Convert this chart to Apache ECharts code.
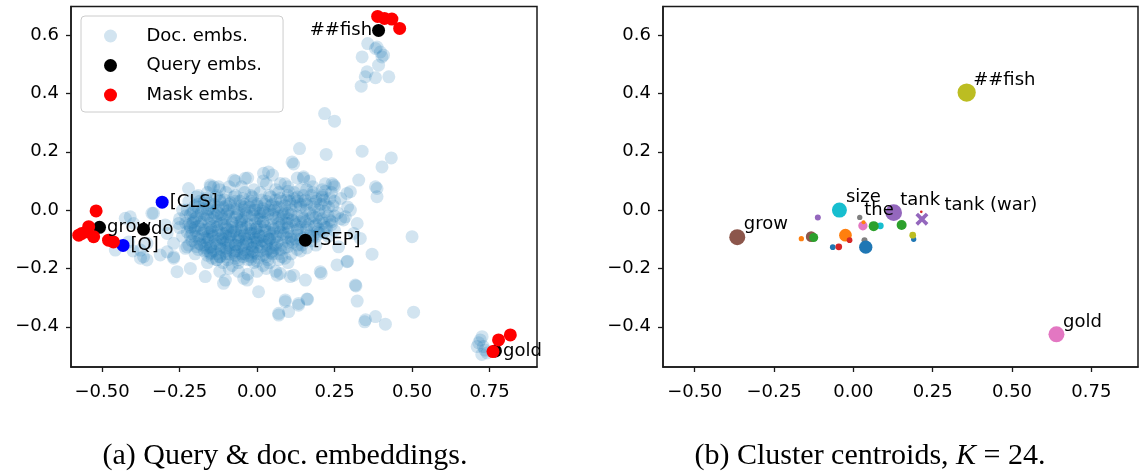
<!DOCTYPE html>
<html>
<head>
<meta charset="utf-8">
<script src="https://cdn.jsdelivr.net/npm/echarts@6/dist/echarts.min.js"></script>
<style>
  html, body { margin: 0; padding: 0; background: #fff; }
  #main { width: 1140px; height: 472px; }
</style>
</head>
<body>
<div id="main"></div>
<script>
// tick values
const xTicks = [-0.5, -0.25, 0, 0.25, 0.5, 0.75]
const yTicks = [-0.4, -0.2, 0, 0.2, 0.4, 0.6]

// (a) document embeddings
const docEmbs = [
  // main cloud
  [-0.07,0.10],[-0.03,0.11],[0.02,0.10],[0.05,0.12],[0.09,0.09],[0.13,0.11],[0.17,0.10],[0.22,0.09],
  [-0.15,0.08],[-0.12,0.07],[-0.09,0.08],[-0.05,0.08],[-0.01,0.07],[0.03,0.09],[0.06,0.07],[0.10,0.08],[0.14,0.07],[0.18,0.08],[0.21,0.07],[0.25,0.08],
  [-0.19,0.05],[-0.16,0.06],[-0.13,0.05],[-0.10,0.06],[-0.07,0.05],[-0.04,0.06],[-0.02,0.05],[0.01,0.06],[0.04,0.05],[0.07,0.06],[0.10,0.05],[0.12,0.06],[0.15,0.05],[0.18,0.06],[0.21,0.05],[0.24,0.06],[0.27,0.04],
  [-0.22,0.03],[-0.19,0.02],[-0.17,0.03],[-0.14,0.02],[-0.12,0.03],[-0.09,0.02],[-0.07,0.03],[-0.04,0.02],[-0.02,0.03],[0.00,0.02],[0.03,0.03],[0.05,0.02],[0.08,0.03],[0.11,0.02],[0.13,0.03],[0.16,0.02],[0.19,0.03],[0.22,0.02],[0.25,0.03],
  [-0.24,0.00],[-0.21,-0.01],[-0.19,0.01],[-0.16,0.00],[-0.14,-0.01],[-0.11,0.01],[-0.09,0.00],[-0.06,-0.01],[-0.04,0.01],[-0.01,0.00],[0.01,-0.01],[0.04,0.00],[0.06,0.01],[0.09,-0.01],[0.11,0.00],[0.14,0.01],[0.17,-0.01],[0.20,0.00],[0.23,0.01],[0.26,-0.01],
  [-0.25,-0.03],[-0.23,-0.02],[-0.20,-0.03],[-0.18,-0.04],[-0.15,-0.03],[-0.13,-0.02],[-0.10,-0.03],[-0.08,-0.04],[-0.05,-0.03],[-0.03,-0.02],[0.00,-0.03],[0.02,-0.04],[0.05,-0.03],[0.07,-0.02],[0.10,-0.03],[0.12,-0.04],[0.15,-0.03],[0.18,-0.02],[0.21,-0.03],[0.24,-0.04],[0.27,-0.03],
  [-0.25,-0.06],[-0.22,-0.05],[-0.20,-0.06],[-0.17,-0.07],[-0.15,-0.06],[-0.12,-0.05],[-0.10,-0.06],[-0.07,-0.07],[-0.05,-0.06],[-0.02,-0.05],[0.00,-0.06],[0.03,-0.07],[0.05,-0.06],[0.08,-0.05],[0.10,-0.06],[0.13,-0.07],[0.16,-0.06],[0.19,-0.05],[0.22,-0.06],[0.25,-0.07],
  [-0.24,-0.09],[-0.21,-0.08],[-0.19,-0.09],[-0.16,-0.10],[-0.14,-0.09],[-0.11,-0.08],[-0.09,-0.09],[-0.06,-0.10],[-0.04,-0.09],[-0.01,-0.08],[0.01,-0.09],[0.04,-0.10],[0.06,-0.09],[0.09,-0.08],[0.11,-0.09],[0.14,-0.10],[0.17,-0.09],[0.20,-0.08],[0.23,-0.09],
  [-0.22,-0.12],[-0.20,-0.11],[-0.17,-0.12],[-0.15,-0.13],[-0.12,-0.12],[-0.10,-0.11],[-0.07,-0.12],[-0.05,-0.13],[-0.02,-0.12],[0.00,-0.11],[0.03,-0.12],[0.05,-0.13],[0.08,-0.12],[0.10,-0.11],[0.13,-0.12],[0.16,-0.13],[0.19,-0.12],
  [-0.20,-0.15],[-0.17,-0.14],[-0.15,-0.15],[-0.12,-0.16],[-0.10,-0.15],[-0.07,-0.14],[-0.05,-0.15],[-0.02,-0.16],[0.00,-0.15],[0.03,-0.14],[0.05,-0.15],[0.08,-0.16],[0.11,-0.15],[0.14,-0.14],
  [-0.16,-0.18],[-0.13,-0.17],[-0.11,-0.18],[-0.08,-0.19],[-0.06,-0.18],[-0.03,-0.17],[-0.01,-0.18],[0.02,-0.19],[0.04,-0.18],[0.07,-0.17],[0.10,-0.18],
  [-0.12,-0.21],[-0.09,-0.20],[-0.06,-0.21],[-0.03,-0.22],[0.00,-0.21],[0.03,-0.20],[0.06,-0.21],
  // denser core
  [-0.20,0.015],[-0.175,0.005],[-0.15,0.015],[-0.125,0.01],[-0.10,0.015],[-0.075,0.005],[-0.05,0.015],[-0.025,0.01],[0.0,0.015],[0.02,0.005],[0.045,0.015],[0.07,0.01],
  [-0.215,-0.015],[-0.19,-0.02],[-0.165,-0.015],[-0.14,-0.025],[-0.115,-0.015],[-0.09,-0.02],[-0.065,-0.015],[-0.04,-0.025],[-0.015,-0.015],[0.01,-0.02],[0.035,-0.015],[0.06,-0.025],[0.085,-0.015],
  [-0.23,-0.045],[-0.205,-0.04],[-0.18,-0.05],[-0.155,-0.045],[-0.13,-0.04],[-0.105,-0.05],[-0.08,-0.045],[-0.055,-0.04],[-0.03,-0.05],[-0.005,-0.045],[0.02,-0.04],[0.045,-0.05],[0.07,-0.045],
  [-0.225,-0.075],[-0.20,-0.07],[-0.175,-0.08],[-0.15,-0.075],[-0.125,-0.07],[-0.10,-0.08],[-0.075,-0.075],[-0.05,-0.07],[-0.025,-0.08],[0.0,-0.075],[0.025,-0.07],[0.05,-0.08],[0.075,-0.075],
  [-0.21,-0.105],[-0.185,-0.10],[-0.16,-0.11],[-0.135,-0.105],[-0.11,-0.10],[-0.085,-0.11],[-0.06,-0.105],[-0.035,-0.10],[-0.01,-0.11],[0.015,-0.105],[0.04,-0.10],[0.065,-0.11],
  [-0.19,-0.135],[-0.165,-0.13],[-0.14,-0.14],[-0.115,-0.135],[-0.09,-0.13],[-0.065,-0.14],[-0.04,-0.135],[-0.015,-0.13],[0.01,-0.14],[0.035,-0.135],[0.06,-0.13],
  [-0.145,-0.165],[-0.12,-0.16],[-0.095,-0.17],[-0.07,-0.165],[-0.045,-0.16],[-0.02,-0.17],[0.005,-0.165],[0.03,-0.16],
  [0.10,0.065],[0.13,0.045],[0.16,0.07],[0.19,0.04],[0.22,0.065],
  [0.095,0.035],[0.125,0.015],[0.155,0.035],[0.185,0.01],[0.215,0.035],[0.245,0.015],
  [0.10,-0.01],[0.13,-0.02],[0.16,0.0],[0.19,-0.025],[0.22,-0.005],[0.25,-0.02],
  [0.095,-0.045],[0.125,-0.05],[0.155,-0.04],[0.185,-0.055],[0.215,-0.045],[0.24,-0.05],
  [0.10,-0.075],[0.13,-0.085],[0.16,-0.07],[0.19,-0.09],[0.215,-0.075],
  [0.115,-0.11],[0.145,-0.12],[0.175,-0.105],
  [-0.17,-0.03],[-0.14,-0.055],[-0.11,-0.03],[-0.08,-0.06],[-0.05,-0.035],[-0.02,-0.065],[0.01,-0.03],
  [-0.16,-0.09],[-0.13,-0.115],[-0.10,-0.09],[-0.07,-0.12],[-0.04,-0.085],[-0.01,-0.125],[0.02,-0.09],
  [-0.15,-0.145],[-0.12,-0.10],[-0.09,-0.15],[-0.06,-0.095],[-0.03,-0.145],[0.0,-0.10],
  [-0.195,0.045],[-0.165,0.04],[-0.135,0.045],[-0.105,0.035],[-0.075,0.045],[-0.045,0.04],[-0.015,0.045],[0.015,0.035],[0.045,0.045],[0.075,0.04],[0.105,0.03],[0.14,0.02],[0.175,0.05],[0.205,0.02],[0.235,0.04],
  [-0.205,-0.005],[-0.18,-0.01],[-0.155,0.005],[-0.125,-0.01],[-0.095,-0.005],[-0.065,0.005],[-0.035,-0.01],[-0.005,0.0],[0.025,-0.01],[0.055,0.0],[0.08,-0.005],[0.115,-0.035],[0.145,-0.02],[0.2,-0.04],[0.23,-0.02],
  [-0.215,-0.06],[-0.19,-0.055],[-0.16,-0.065],[-0.13,-0.06],[-0.095,-0.065],[-0.065,-0.055],[-0.035,-0.06],[-0.005,-0.065],[0.025,-0.055],[0.055,-0.065],[0.085,-0.06],[0.14,-0.06],[0.17,-0.085],[0.2,-0.065],
  [-0.2,-0.09],[-0.17,-0.095],[-0.145,-0.085],[-0.115,-0.095],[-0.085,-0.085],[-0.055,-0.09],[-0.025,-0.095],[0.005,-0.085],[0.035,-0.095],[0.065,-0.09],[0.095,-0.095],[0.125,-0.1],
  [-0.18,-0.12],[-0.15,-0.125],[-0.12,-0.13],[-0.09,-0.12],[-0.06,-0.125],[-0.03,-0.115],[0.0,-0.125],[0.03,-0.115],[0.06,-0.12],[0.09,-0.13],
  [-0.13,-0.15],[-0.1,-0.14],[-0.07,-0.155],[-0.04,-0.15],[-0.01,-0.145],[0.02,-0.155],[0.05,-0.14],
  [-0.185,0.03],[-0.155,0.025],[-0.12,0.035],[-0.085,0.025],[-0.055,0.03],[-0.01,0.025],[0.025,0.02],[0.06,0.035],[0.09,0.015],[0.12,0.04],[0.15,0.03],[0.18,0.02],[0.21,0.045],
  [-0.225,0.0],[-0.195,-0.025],[-0.16,-0.02],[-0.13,0.0],[-0.1,-0.015],[-0.07,-0.025],[-0.04,0.0],[-0.01,-0.02],[0.02,-0.005],[0.05,-0.015],[0.08,-0.03],[0.11,-0.015],[0.14,-0.04],[0.17,-0.03],[0.2,-0.015],[0.235,-0.035],
  [-0.21,-0.045],[-0.18,-0.065],[-0.145,-0.07],[-0.115,-0.045],[-0.085,-0.07],[-0.05,-0.05],[-0.02,-0.08],[0.01,-0.055],[0.04,-0.075],[0.07,-0.06],[0.1,-0.045],[0.13,-0.065],[0.165,-0.05],[0.195,-0.075],[0.225,-0.06],
  [-0.215,-0.09],[-0.185,-0.115],[-0.155,-0.1],[-0.125,-0.085],[-0.095,-0.105],[-0.065,-0.085],[-0.035,-0.11],[-0.005,-0.095],[0.025,-0.11],[0.055,-0.1],[0.085,-0.085],[0.11,-0.1],[0.15,-0.095],[0.18,-0.09],
  [-0.195,-0.125],[-0.16,-0.14],[-0.13,-0.125],[-0.1,-0.13],[-0.075,-0.145],[-0.045,-0.12],[-0.015,-0.14],[0.015,-0.125],[0.045,-0.145],[0.075,-0.135],[0.1,-0.125],[0.13,-0.135],
  [-0.16,-0.155],[-0.13,-0.17],[-0.1,-0.16],[-0.06,-0.17],[-0.03,-0.155],[0.0,-0.175],[0.035,-0.17],[0.07,-0.15],[0.09,-0.165],
  // left trail and lower edge
  [-0.425,-0.028],[-0.409,-0.023],[-0.398,-0.046],[-0.366,-0.160],[-0.312,-0.154],[-0.269,-0.165],[-0.258,-0.211],[-0.215,-0.200],
  [-0.167,-0.228],[-0.102,-0.240],[-0.108,-0.251],[-0.043,-0.234],[0.005,-0.280],[0.070,-0.354],[0.091,-0.308],
  [-0.334,-0.011],[-0.221,0.074],[-0.140,0.080],[-0.215,-0.057],[-0.269,-0.114],[-0.231,-0.131],[-0.290,-0.080],
  [-0.355,-0.114],[-0.414,-0.109],[-0.376,-0.137],[-0.339,-0.011],[-0.296,-0.051],[-0.253,-0.046],[-0.226,-0.126],
  [-0.290,-0.143],[-0.269,-0.160],[-0.376,-0.165],[-0.457,-0.137],[-0.400,-0.140],[-0.355,-0.171],
  [-0.032,-0.240],[0.065,-0.223],[0.107,-0.228],[0.204,-0.211],[0.317,-0.257],[0.134,-0.320],[0.163,-0.306],
  // upper edge
  [0.037,0.131],[0.021,0.126],[-0.075,0.103],[-0.038,0.109],[-0.151,0.086],[-0.124,0.080],[0.075,0.091],[0.150,0.114],
  [0.290,0.057],[0.301,0.000],[0.285,-0.023],[0.323,-0.046],[0.312,-0.080],[0.263,-0.126],[0.290,-0.177],
  // upper right spray
  [0.218,0.331],[0.250,0.305],[0.137,0.211],[0.223,0.191],[0.339,0.202],[0.433,0.179],[0.403,0.148],[0.113,0.165],
  [0.118,0.158],[0.328,0.103],[0.387,0.074],[0.150,0.109],[0.242,0.091],[0.301,0.063],
  // lower right spray
  [0.382,0.080],[0.387,0.046],[0.500,-0.091],[0.371,-0.151],[0.292,-0.175],[0.319,-0.260],[0.323,-0.312],[0.505,-0.350],
  [0.347,-0.383],[0.350,-0.376],[0.382,-0.365],[0.414,-0.391],[0.161,-0.305],[0.134,-0.326],[0.091,-0.314],[0.070,-0.360],
  [0.102,-0.348],[0.207,-0.217],[0.258,-0.188],[0.156,-0.240],[0.118,-0.223],[0.075,-0.217],[0.333,-0.097],[0.279,-0.034],
  [0.292,0.011],[0.247,0.086],
  // ##fish group
  [0.357,0.571],[0.382,0.554],[0.398,0.542],[0.403,0.525],[0.339,0.525],[0.392,0.497],[0.425,0.457],[0.355,0.474],
  [0.382,0.454],[0.336,0.425],[0.349,0.457],[0.408,0.531],[0.387,0.559],
  // gold group
  [0.720,-0.445],[0.730,-0.468],[0.710,-0.468],[0.742,-0.490],[0.726,-0.434],[0.715,-0.455],[0.735,-0.480],[0.725,-0.495]
]

const queryEmbs = [
  ['##fish', 0.392, 0.616],
  ['grow', -0.508, -0.059],
  ['do', -0.366, -0.066],
  ['[SEP]', 0.156, -0.103],
  ['gold', 0.769, -0.483]
]
const specialEmbs = [
  ['[CLS]', -0.306, 0.027],
  ['[Q]', -0.432, -0.121]
]
const maskEmbs = [
  [0.389,0.664],[0.411,0.657],[0.435,0.655],[0.460,0.623],
  [-0.519,-0.003],[-0.543,-0.057],[-0.565,-0.080],[-0.527,-0.091],[-0.575,-0.086],[-0.479,-0.103],[-0.463,-0.109],[-0.548,-0.074],
  [0.817,-0.428],[0.779,-0.445],[0.761,-0.485]
]

// (b) cluster centroids: [cluster id, x, y, weight]
const centroids = [
  [5,-0.366,-0.093,256],[15,-0.133,-0.091,114],[17,0.035,-0.103,36],[19,0.085,-0.054,45],[20,0.190,-0.100,28],
  [0,0.039,-0.127,177],[1,-0.025,-0.086,161],[2,0.064,-0.055,100],[3,-0.012,-0.103,32],[4,0.127,-0.009,279],
  [6,0.640,-0.426,256],[7,0.020,-0.025,28],[8,0.357,0.403,335],[9,-0.044,0.000,225],[10,-0.065,-0.127,32],
  [11,-0.164,-0.098,28],[12,-0.125,-0.094,81],[13,-0.046,-0.126,45],[14,-0.112,-0.025,36],[16,0.030,-0.054,86],
  [18,0.187,-0.086,45],[21,0.032,-0.042,16],[22,0.152,-0.051,100],[23,0.214,-0.006,7]
]
const warQuery = [0.216, -0.031]
const centroidLabels = [
  ['grow', -0.366, -0.093],
  ['size', -0.044, 0.000],
  ['the', 0.020, -0.025],
  ['tank', 0.127, -0.009],
  ['tank (war)', 0.216, -0.031],
  ['##fish', 0.357, 0.403],
  ['gold', 0.640, -0.426]
]

const tab10 = ['#1f77b4', '#ff7f0e', '#2ca02c', '#d62728', '#9467bd', '#8c564b', '#e377c2', '#7f7f7f', '#bcbd22', '#17becf']
const font = 'DejaVu Sans'
const spine = '#1a1a1a'
const labelNudge = { 'the': [5, -7], 'tank (war)': [23, -13] }

const fmt = (d) => (v) => (v < 0 ? '\u2212' : '') + Math.abs(v).toFixed(d)

function xAxis (gi, max) {
  return {
    type: 'value', gridIndex: gi, min: -0.6, max: max,
    axisLine: { show: true, onZero: false, lineStyle: { color: spine, width: 1.5 } },
    axisTick: { show: true, length: 5, customValues: xTicks, lineStyle: { color: spine, width: 1.3 } },
    axisLabel: { customValues: xTicks, formatter: fmt(2), fontFamily: font, fontSize: 18, color: '#000', margin: 16 },
    splitLine: { show: false }
  }
}
function yAxis (gi) {
  return {
    type: 'value', gridIndex: gi, min: -0.538, max: 0.698,
    axisLine: { show: true, onZero: false, lineStyle: { color: spine, width: 1.5 } },
    axisTick: { show: true, length: 5, customValues: yTicks, lineStyle: { color: spine, width: 1.3 } },
    axisLabel: { customValues: yTicks, formatter: fmt(1), fontFamily: font, fontSize: 18, color: '#000', margin: 12 },
    splitLine: { show: false }
  }
}

const textLabel = { fontFamily: font, fontSize: 18, color: '#000' }

const option = {
  animation: false,
  grid: [
    { left: 71, top: 6.5, width: 466, height: 360.5, show: true, borderColor: spine, borderWidth: 1.5 },
    { left: 663, top: 6.5, width: 475, height: 360.5, show: true, borderColor: spine, borderWidth: 1.5 }
  ],
  xAxis: [xAxis(0, 0.903), xAxis(1, 0.897)],
  yAxis: [yAxis(0), yAxis(1)],
  legend: {
    orient: 'vertical', left: 81, top: 16,
    padding: [10, 21, 7, 23],
    itemWidth: 50, itemHeight: 13, itemGap: 9.5,
    backgroundColor: 'rgba(255,255,255,0.8)', borderColor: '#cccccc', borderWidth: 1, borderRadius: 4,
    textStyle: { fontFamily: font, fontSize: 18, color: '#000', lineHeight: 20, padding: [0, 0, 0, 6] },
    data: [
      { name: 'Doc. embs.', icon: 'circle', itemStyle: { color: 'rgba(31,119,180,0.2)', opacity: 1 } },
      { name: 'Query embs.', icon: 'circle' },
      { name: 'Mask embs.', icon: 'circle' }
    ]
  },
  graphic: [
    { type: 'text', x: 285, y: 456, style: { text: '(a) Query & doc. embeddings.', font: '30px "Liberation Serif"', fill: '#000', align: 'center', verticalAlign: 'middle' } },
    { type: 'text', x: 870, y: 456, style: {
      text: '(b) Cluster centroids, {i|K} = 24.', font: '30px "Liberation Serif"', fill: '#000', align: 'center', verticalAlign: 'middle',
      rich: { i: { fontStyle: 'italic', fontFamily: 'Liberation Serif', fontSize: 30 } }
    } }
  ],
  series: [
    {
      name: 'Doc. embs.', type: 'scatter', xAxisIndex: 0, yAxisIndex: 0,
      symbol: 'circle', symbolSize: 13, silent: true,
      itemStyle: { color: 'rgba(31,119,180,0.2)', opacity: 1 },
      data: docEmbs
    },
    {
      name: 'Query embs.', type: 'scatter', xAxisIndex: 0, yAxisIndex: 0,
      symbol: 'circle', symbolSize: 13, silent: true,
      itemStyle: { color: '#000', opacity: 1 },
      label: Object.assign({ show: true, position: 'right', distance: 1, formatter: '{b}' }, textLabel),
      data: queryEmbs.map(d => ({
        name: d[0], value: [d[1], d[2]],
        label: d[0] === '##fish' ? { position: 'left', distance: 0 } : undefined
      }))
    },
    {
      name: 'Special', type: 'scatter', xAxisIndex: 0, yAxisIndex: 0,
      symbol: 'circle', symbolSize: 13, silent: true,
      itemStyle: { color: '#0000ff', opacity: 1 },
      label: Object.assign({ show: true, position: 'right', distance: 1, formatter: '{b}' }, textLabel),
      data: specialEmbs.map(d => ({ name: d[0], value: [d[1], d[2]] }))
    },
    {
      name: 'Mask embs.', type: 'scatter', xAxisIndex: 0, yAxisIndex: 0,
      symbol: 'circle', symbolSize: 13, silent: true,
      itemStyle: { color: '#ff0000', opacity: 1 },
      data: maskEmbs
    },
    {
      name: 'Centroids', type: 'scatter', xAxisIndex: 1, yAxisIndex: 1,
      symbol: 'circle', silent: true,
      symbolSize: (v) => Math.sqrt(v[2]),
      itemStyle: { opacity: 1 },
      data: centroids.map(c => ({ value: [c[1], c[2], c[3]], itemStyle: { color: tab10[c[0] % 10], opacity: 1 } }))
    },
    {
      name: 'War query', type: 'scatter', xAxisIndex: 1, yAxisIndex: 1, silent: true,
      symbol: 'path://M2,0L5,3L8,0L10,2L7,5L10,8L8,10L5,7L2,10L0,8L3,5L0,2Z', symbolSize: 13,
      itemStyle: { color: '#9467bd', opacity: 1 },
      data: [warQuery]
    },
    {
      name: 'Centroid labels', type: 'scatter', xAxisIndex: 1, yAxisIndex: 1, silent: true,
      symbolSize: 1, itemStyle: { color: 'rgba(0,0,0,0)', opacity: 1 },
      label: Object.assign({ show: true, position: [7, -12], align: 'left', verticalAlign: 'middle', formatter: '{b}' }, textLabel),
      data: centroidLabels.map(d => ({
        name: d[0], value: [d[1], d[2]],
        label: labelNudge[d[0]] ? { position: labelNudge[d[0]] } : undefined
      }))
    }
  ]
}

const chart = echarts.init(document.getElementById('main'))
chart.setOption(option)
</script>
</body>
</html>
